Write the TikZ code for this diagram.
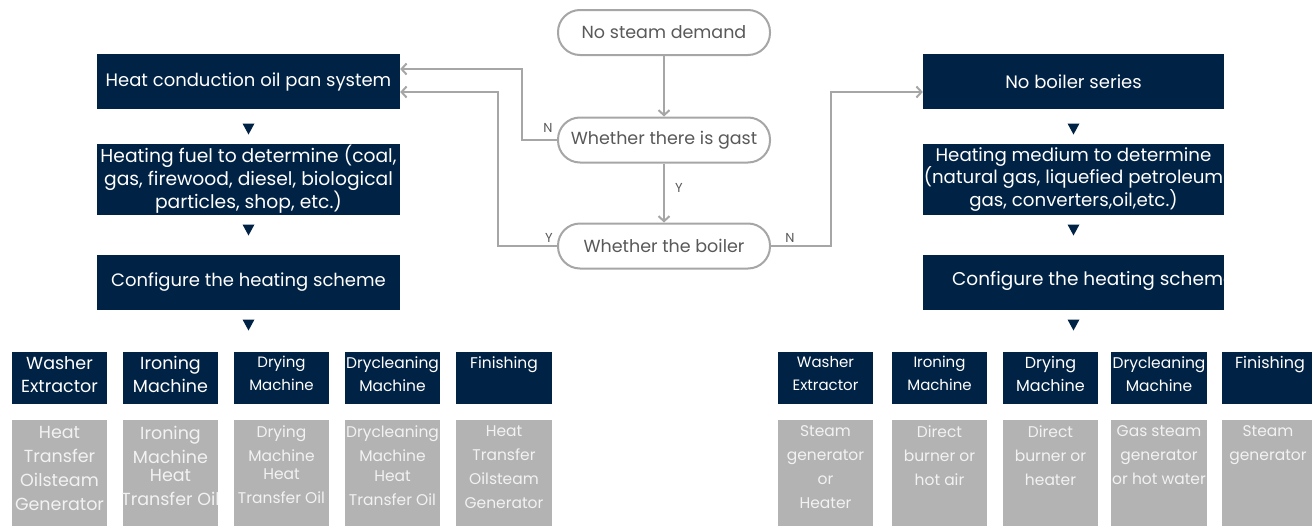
\documentclass[tikz,border=0pt]{standalone}
\usepackage{fontspec}
\setmainfont{Poppins}
\usetikzlibrary{arrows.meta}
\definecolor{navy}{RGB}{0,34,68}
\definecolor{boxgray}{RGB}{179,179,179}
\definecolor{lineg}{RGB}{166,166,166}
\definecolor{txtg}{RGB}{89,89,89}
\definecolor{paletxt}{RGB}{242,242,242}
\tikzset{
  darkbox/.style={fill=navy, text=white, inner sep=0pt, align=center,
    font=\fontsize{18}{22.5}\selectfont},
  widebox/.style={darkbox, font=\fontsize{18.7}{22.5}\selectfont},
  headbox/.style={fill=navy, text=white, inner sep=0pt, align=center},
  graybox/.style={fill=boxgray, inner sep=0pt},
  graytext/.style={text=paletxt, inner sep=0pt, align=center, anchor=north},
  headtext/.style={text=white, inner sep=0pt, align=center, anchor=north},
  flownode/.style={draw=lineg, line width=2pt, fill=white, rounded corners=22pt,
    text=txtg, inner sep=0pt, minimum width=212pt, minimum height=45pt,
    font=\fontsize{17.5}{20}\selectfont},
  conn/.style={draw=lineg, line width=2pt, -{Straight Barb[length=5pt,width=11pt,line width=2pt]}},
  flowlabel/.style={text=txtg, font=\fontsize{13}{15}\selectfont, inner sep=0pt},
  tri/.style={fill=navy}
}
\begin{document}
\begin{tikzpicture}[x=1pt,y=-1pt]
\useasboundingbox (0,0) rectangle (1312,525);
\clip (0,0) rectangle (1312,525);

% ---------- flow nodes ----------
\node[flownode] (nsd) at (664,32.5) {No steam demand};
\node[flownode] (gast) at (664,140) {Whether there is gast};
\node[flownode] (boil) at (664,246) {Whether the boiler};

% ---------- left column ----------
\node[darkbox, minimum width=303pt, minimum height=55pt] (L1) at (248.5,81.5) {Heat conduction oil pan system};
\node[widebox, minimum width=303pt, minimum height=71pt] (L2) at (248.5,179.5) {Heating fuel to determine (coal,\\gas, firewood, diesel, biological\\particles, shop, etc.)};
\node[darkbox, minimum width=303pt, minimum height=55pt] (L3) at (248.5,282) {Configure the heating scheme};

% ---------- right column ----------
\node[darkbox, minimum width=301pt, minimum height=55pt] (R1) at (1073.5,81.5) {No boiler series};
\node[widebox, minimum width=301pt, minimum height=71pt, font=\fontsize{18.2}{22.5}\selectfont] (R2) at (1073.5,179.5) {Heating medium to determine\\(natural gas, liquefied petroleum\\gas, converters,oil,etc.)};
\begin{scope}
\clip (923,254) rectangle (1224,310);
\node[darkbox, minimum width=301pt, minimum height=55pt] (R3) at (1073.5,282) {};
\node[text=white, inner sep=0pt, anchor=west, font=\fontsize{18.5}{20}\selectfont] (R3t) at (952,281) {Configure the heating scheme};
\end{scope}

% ---------- triangles ----------
\foreach \x in {248.5,1073.5}{
  \foreach \y in {129,230,325}{
    \fill[tri] (\x-6,\y-5.5) -- (\x+6,\y-5.5) -- (\x,\y+5.5) -- cycle;
  }
}

% ---------- connectors ----------
\draw[conn] (nsd) -- (gast);
\draw[conn] (gast) -- (boil);
\draw[conn] (gast.west) -- (522,140) |- ([yshift=12.5pt]L1.east);
\draw[conn] (boil.west) -- (498,246) |- ([yshift=-10.5pt]L1.east);
\draw[conn] (boil.east) -- (831,246) |- ([yshift=-10.5pt]R1.west);
\node[flowlabel] (lN1) at (548,128) {N};
\node[flowlabel] (lY1) at (679,188) {Y};
\node[flowlabel] (lY2) at (549,238) {Y};
\node[flowlabel] (lN2) at (790,238) {N};

% ---------- bottom boxes ----------
\foreach \i/\xa/\xb/\fs/\txt in {
  a/12/107/17.5/{Washer\\Extractor},
  b/123/218/17.5/{Ironing\\Machine},
  c/234/329/15/{Drying\\Machine},
  d/345/440/15.5/{Drycleaning\\Machine},
  e/456/552/15.5/{Finishing},
  f/778/873/15/{Washer\\Extractor},
  g/892/987/15/{Ironing\\Machine},
  h/1003/1098/16/{Drying\\Machine},
  i/1111/1207/15.5/{Drycleaning\\Machine},
  j/1222/1318/16/{Finishing}}{
  \node[headbox, minimum width={\xb-\xa}, minimum height=52pt] (H\i) at ({(\xa+\xb)/2},378) {};
  \node[headtext, font=\fontsize{\fs}{23}\selectfont] at ({(\xa+\xb)/2},356) {\txt};
  \node[graybox, minimum width={\xb-\xa}, minimum height=110pt] (G\i) at ({(\xa+\xb)/2},475) {};
}

% gray texts
\node[graytext, font=\fontsize{17.5}{24}\selectfont] (ta) at (59.5,426) {Heat\\Transfer\\Oilsteam\\Generator};
\node[graytext, font=\fontsize{17.5}{24}\selectfont] (tb) at (170.5,426) {Ironing\\Machine\\[-6pt]Heat\\Transfer Oil};
\node[graytext, font=\fontsize{15.5}{24}\selectfont] (tc) at (281.5,425) {Drying\\Machine\\[-6pt]Heat\\Transfer Oil};
\node[graytext, font=\fontsize{15.5}{24}\selectfont] (td) at (392.5,425) {Drycleaning\\Machine\\[-4pt]Heat\\Transfer Oil};
\node[graytext, font=\fontsize{15.5}{24}\selectfont] (te) at (504,425) {Heat\\Transfer\\Oilsteam\\Generator};

\node[graytext, font=\fontsize{15.5}{24}\selectfont] (tf) at (825.5,425) {Steam\\generator\\or\\Heater};
\node[graytext, font=\fontsize{15.5}{24}\selectfont] (tg) at (939.5,425) {Direct\\burner or\\hot air};
\node[graytext, font=\fontsize{15.5}{24}\selectfont] (th) at (1050.5,425) {Direct\\burner or\\heater};
\node[graytext, font=\fontsize{15.5}{24}\selectfont] (ti) at (1159,425) {Gas steam\\generator\\or hot water};
\node[graytext, font=\fontsize{15.5}{24}\selectfont] (tj) at (1268,425) {Steam\\generator};
\end{tikzpicture}
\end{document}
